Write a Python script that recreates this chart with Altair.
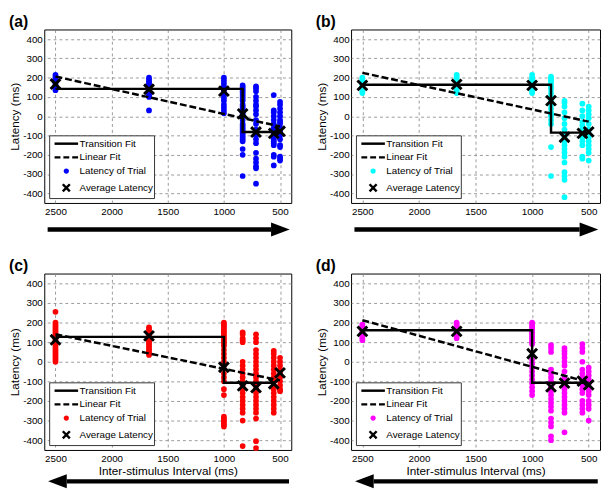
import altair as alt
import pandas as pd

FONT = "Liberation Sans"

# ---------------- data ----------------
isi = [2500, 1667, 1000, 833, 714, 556, 500]
x_ticks = [2500, 2000, 1500, 1000, 500]
y_ticks = [-400, -300, -200, -100, 0, 100, 200, 300, 400]

trials_a = [
    [215, 205, 195, 185, 175, 165, 155, 145, 135],
    [200, 190, 180, 170, 160, 150, 140, 130, 120, 110, 100, 30],
    [200, 185, 170, 155, 140, 125, 110, 95, 80, 60, 45, 30, 15],
    [160, 150, 140, 130, 120, 110, 100, 90, 80, 60, 50, 40, 30, 20, 10, 0, -20, -40, -50, -60, -70, -80, -90, -100, -110, -120, -130, -170, -200, -310],
    [155, 145, 130, 100, 80, 60, 50, 30, 10, -20, -40, -70, -80, -100, -120, -140, -190, -220, -240, -260, -270, -350],
    [110, 30, 20, 0, -20, -40, -60, -70, -80, -90, -100, -110, -120, -130, -140, -150, -200, -210, -255],
    [75, 60, 40, 20, 0, -20, -30, -40, -60, -80, -100, -120, -150, -160, -210, -220, -230],
]
trials_b = [
    [200, 190, 180, 170, 160, 150, 140, 130, 120],
    [215, 205, 195, 185, 175, 165, 150, 140, 130, 120],
    [215, 200, 190, 180, 170, 160, 150, 140, 130, 120],
    [205, 195, 185, 175, 160, 150, 140, 120, 100, 80, 60, 40, 20, 10, 0, -20, -40, -160, -310],
    [80, 70, 50, 20, -10, -40, -70, -90, -100, -110, -130, -150, -170, -190, -210, -240, -290, -310, -330, -420],
    [65, 30, 0, -30, -50, -70, -90, -110, -130, -150, -210, -220],
    [50, 30, 10, -10, -40, -70, -90, -110, -130, -150, -170, -190, -230],
]
trials_c = [
    [255, 200, 190, 180, 170, 160, 150, 140, 130, 120, 110, 100, 90, 80, 70, 60, 50, 40, 30, 20, 10, 0],
    [175, 165, 155, 145, 135, 125, 115, 105, 95, 85, 75, 65, 55, 45, 35],
    [200, 190, 180, 170, 160, 150, 140, 130, 120, 110, 100, 90, 80, 60, 40, 20, 0, -20, -60, -80, -100, -140, -170, -280, -290, -300, -310, -320, -330],
    [150, 140, 120, 110, 100, 0, -20, -40, -60, -80, -100, -120, -140, -160, -180, -200, -220, -240, -260, -300, -430],
    [140, 120, 100, 60, 40, 20, 0, -20, -40, -60, -80, -100, -120, -140, -160, -180, -200, -220, -240, -260, -290, -405, -440],
    [55, 40, 20, 0, -20, -40, -60, -80, -100, -120, -140, -160, -180, -200, -220, -240, -260],
    [20, 0, -20, -40, -60, -80, -100, -120, -140, -150],
]
trials_d = [
    [190, 180, 170, 160, 150, 140, 130, 120, 110],
    [200, 190, 180, 170, 160, 150, 140, 130, 120],
    [200, 190, 180, 170, 160, 150, 140, 130, 120, 110, 100, 90, 10, -10, -30, -50, -70, -90, -110, -130, -150, -170],
    [85, 70, 50, -40, -60, -80, -100, -130, -150, -170, -190, -210, -230, -250, -290, -310, -330, -380, -400],
    [70, 55, 40, 20, 0, -20, -50, -80, -100, -120, -140, -160, -180, -200, -220, -240, -260, -360],
    [90, 70, 50, 0, -40, -60, -80, -100, -120, -140, -160, -200, -220, -240, -260],
    [-30, -50, -70, -90, -110, -130, -150, -170, -200, -220, -240, -300],
]

avg_a = [167, 140, 130, 12, -82, -89, -78]
avg_b = [160, 165, 160, 81, -109, -89, -81]
avg_c = [112, 132, -28, -123, -132, -112, -57]
avg_d = [155, 155, 41, -128, -109, -99, -118]

trans_isi_a = [2500, 833, 833, 500]
trans_lat_a = [142, 142, -82, -82]
trans_isi_b = [2500, 833, 833, 500]
trans_lat_b = [163, 163, -85, -85]
trans_isi_c = [2500, 1000, 1000, 556]
trans_lat_c = [127, 127, -107, -107]
trans_isi_d = [2500, 1000, 1000, 500]
trans_lat_d = [161, 161, -107, -107]

lin_isi = [2500, 500]
lin_a = [206, -53]
lin_b = [225, -28]
lin_c = [140, -95]
lin_d = [212, -105]

# direction arrows (tail ISI, ISI at the base of the head)
arrow_top = [2570, 580]
arrow_bottom = [420, 2400]

series_names = ["Transition Fit", "Linear Fit", "Latency of Trial", "Average Latency"]
shape_paths = [
    "M-2,0L2,0",
    "M-2,0L-1,0M-0.5,0L0.5,0M1,0L2,0",
    "M-0.24,0A0.24,0.24,0,1,1,0.24,0A0.24,0.24,0,1,1,-0.24,0",
    "M-0.6,-0.6L0.6,0.6M-0.6,0.6L0.6,-0.6",
]

XSCALE = alt.Scale(domain=[400, 2600], reverse=True, nice=False, zero=False)
YSCALE = alt.Scale(domain=[-450, 450], nice=False, zero=False)

RIGHT = "M0,-0.75L2,0L0,0.75Z"
LEFT = "M0,-0.75L-2,0L0,0.75Z"


def panel(label, color, trials, averages, tr_isi, tr_lat, lin_lat, width, height,
          xtitle, arrow_ends, head_path, arrow_y):
    trial_df = pd.DataFrame(
        [{"isi": x, "lat": v} for x, vals in zip(isi, trials) for v in vals]
    )
    avg_df = pd.DataFrame({"isi": isi, "lat": averages, "series": ["Average Latency"] * len(isi)})
    tr_df = pd.DataFrame({"isi": tr_isi, "lat": tr_lat, "ord": list(range(len(tr_isi)))})
    lin_df = pd.DataFrame({"isi": lin_isi, "lat": lin_lat})
    arr_df = pd.DataFrame({"tail": [arrow_ends[0]], "base": [arrow_ends[1]]})

    xaxis_kw = dict(values=x_ticks, labelExpr="datum.value + ''", grid=True, ticks=False,
                    domain=False, labelPadding=4, labelFlush=False)
    if xtitle:
        xaxis_kw["title"] = xtitle
        xaxis_kw["titlePadding"] = 2
    else:
        xaxis_kw["title"] = None
    X = alt.X("isi:Q", scale=XSCALE, axis=alt.Axis(**xaxis_kw))
    Y = alt.Y("lat:Q", scale=YSCALE,
              axis=alt.Axis(values=y_ticks, labelExpr="datum.value + ''",
                            title="Latency (ms)", grid=True, ticks=False,
                            domain=False, labelPadding=2, titlePadding=1))

    dots = alt.Chart(trial_df).mark_circle(size=34, opacity=1, color=color).encode(x=X, y=Y)
    lin = alt.Chart(lin_df).mark_line(color="black", strokeWidth=2.5,
                                      strokeDash=[7, 3]).encode(x=X, y=Y)
    tr = alt.Chart(tr_df).mark_line(color="black", strokeWidth=2.5).encode(
        x=X, y=Y, order="ord:Q")

    leg = dict(title=None, orient="bottom-left", offset=5, padding=1,
               fillColor="white", strokeColor="#333333", labelFont=FONT,
               labelFontSize=10, labelColor="black", symbolSize=144,
               symbolStrokeWidth=2.5, symbolOffset=9, labelOffset=6, rowPadding=1)
    avg = alt.Chart(avg_df).mark_point(filled=False, strokeWidth=3, size=278, opacity=1).encode(
        x=X, y=Y,
        shape=alt.Shape("series:N", scale=alt.Scale(domain=series_names, range=shape_paths),
                        legend=alt.Legend(**leg)),
        color=alt.Color("series:N",
                        scale=alt.Scale(domain=series_names,
                                        range=["black", "black", color, "black"]),
                        legend=alt.Legend(**leg)),
    )

    shaft = alt.Chart(arr_df).mark_rule(color="black", strokeWidth=4.5, clip=False).encode(
        x=alt.X("tail:Q", scale=XSCALE), x2="base:Q", y=alt.value(arrow_y))
    head = alt.Chart(arr_df).mark_point(shape=head_path, filled=True, fill="black", size=361,
                                        opacity=1, strokeWidth=0, clip=False).encode(
        x=alt.X("base:Q", scale=XSCALE), y=alt.value(arrow_y))

    return alt.layer(dots, lin, tr, avg, shaft, head).properties(
        width=width, height=height,
        view=alt.ViewBackground(stroke="black", strokeWidth=1),
        title=alt.TitleParams(label, anchor="start", frame="bounds", fontSize=16,
                              fontWeight="bold", font=FONT, color="black", offset=0),
    )


W1, W2, H1, H2 = 252, 254, 177, 180

pa = panel("(a)", "#0000ff", trials_a, avg_a, trans_isi_a, trans_lat_a, lin_a, W1, H1, None,
           arrow_top, RIGHT, H1 + 27)
pb = panel("(b)", "#00ffff", trials_b, avg_b, trans_isi_b, trans_lat_b, lin_b, W2, H1, None,
           arrow_top, RIGHT, H1 + 27)
pc = panel("(c)", "#ff0000", trials_c, avg_c, trans_isi_c, trans_lat_c, lin_c, W1, H2,
           "Inter-stimulus Interval (ms)", arrow_bottom, LEFT, H2 + 32)
pd_ = panel("(d)", "#ff00ff", trials_d, avg_d, trans_isi_d, trans_lat_d, lin_d, W2, H2,
            "Inter-stimulus Interval (ms)", arrow_bottom, LEFT, H2 + 32)


def indep(c):
    return c.resolve_scale(color="independent", shape="independent").resolve_legend(
        color="independent", shape="independent")


row1 = indep(alt.hconcat(pa, pb, spacing=23))
row2 = indep(alt.hconcat(pc, pd_, spacing=23))
chart = indep(alt.vconcat(row1, row2, spacing=20))

chart = chart.configure_view(stroke=None).configure_axis(
    labelFont=FONT, labelFontSize=10, labelColor="black",
    titleFont=FONT, titleFontSize=12, titleFontWeight="normal", titleColor="black",
    gridColor="#808080", gridDash=[3, 3], gridWidth=0.8, gridOpacity=1,
).properties(padding=0, background="white")

chart.save("out.html", embed_options={"renderer": "svg", "actions": False})
